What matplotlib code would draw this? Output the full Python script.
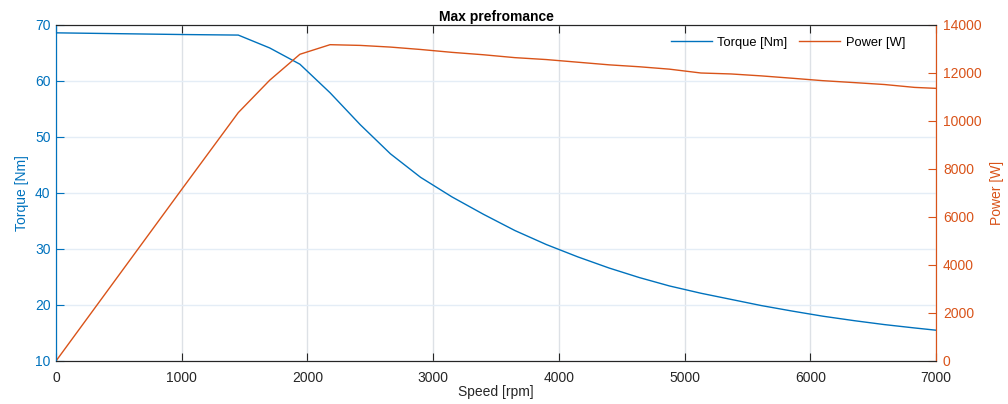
import numpy as np
import matplotlib.pyplot as plt

plt.rcParams['font.family'] = ['Liberation Sans', 'DejaVu Sans']

# ---------------------------------------------------------------------------
# Data
# ---------------------------------------------------------------------------

speed_rpm = [0, 1000, 1450, 1700, 1940, 2180, 2420, 2660, 2900, 3150, 3400,
             3650, 3900, 4150, 4400, 4640, 4880, 5130, 5370, 5610, 5860,
             6100, 6350, 6590, 6830, 7000]
torque_nm = [68.6, 68.3, 68.2, 65.9, 63.0, 57.9, 52.2, 47.0, 42.8, 39.3, 36.2,
             33.3, 30.8, 28.6, 26.6, 24.9, 23.4, 22.1, 21.0, 19.9, 18.9,
             18.0, 17.2, 16.5, 15.9, 15.5]
power_w = [0, 7150, 10350, 11700, 12780, 13180, 13150, 13080, 12980, 12860, 12760,
           12640, 12560, 12450, 12340, 12260, 12160, 12000, 11960, 11880, 11780,
           11680, 11600, 11520, 11400, 11360]

c_torque = "#0072BD"
c_power = "#D95319"
c_axis = "#262626"

fig = plt.figure(figsize=(10.08, 4.04), dpi=100)
ax = fig.add_axes([56 / 1008, 43 / 404, 880 / 1008, 336 / 404])
ax2 = ax.twinx()

ln1, = ax.plot(speed_rpm, torque_nm, color=c_torque, lw=1.0, label="Torque [Nm]")
ln2, = ax2.plot(speed_rpm, power_w, color=c_power, lw=1.0, label="Power [W]")

ax.set_xlim(0, 7000)
ax.set_ylim(10, 70)
ax2.set_ylim(0, 14000)
ax.set_xticks(np.arange(0, 7001, 1000))
ax.set_yticks(np.arange(10, 71, 10))
ax2.set_yticks(np.arange(0, 14001, 2000))

# grid
ax.grid(axis="x", color="#dde1e6", lw=1.0)
ax.grid(axis="y", color="#e4edf6", lw=1.0)
ax.set_axisbelow(True)

fs = 10
ax.tick_params(axis="x", direction="in", length=6, top=True, colors=c_axis,
               labelsize=fs, pad=7)
ax.tick_params(axis="y", direction="in", length=6, colors=c_torque,
               labelsize=fs, pad=4)
ax2.tick_params(axis="y", direction="in", length=6, colors=c_power,
                labelsize=fs, pad=5)

for a in (ax, ax2):
    a.spines["top"].set_color(c_axis)
    a.spines["bottom"].set_color(c_axis)
    a.spines["left"].set_color(c_torque)
    a.spines["right"].set_color(c_power)

ax.set_xlabel("Speed [rpm]", fontsize=fs, color=c_axis, labelpad=0)
ax.set_ylabel("Torque [Nm]", fontsize=fs, color=c_torque, labelpad=4)
ax2.set_ylabel("Power [W]", fontsize=fs, color=c_power, labelpad=6)
ax.set_title("Max prefromance", fontsize=fs, fontweight="bold", color="black", pad=3)

ax.legend(handles=[ln1, ln2], loc="upper right", ncol=2, frameon=False,
          fontsize=9.3, handlelength=3.2, handletextpad=0.4, columnspacing=0.9,
          bbox_to_anchor=(0.978, 1.0))

plt.savefig("out.png", dpi=100)
plt.close()
